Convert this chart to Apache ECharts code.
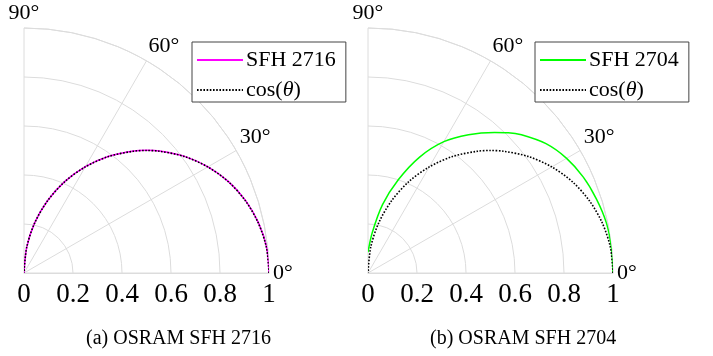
<!DOCTYPE html>
<html lang="en">

<head>
    <meta charset="UTF-8">
    <title>LED radiation patterns</title>
    <style>
        html, body {
            margin: 0;
            padding: 0;
            background: #fff;
        }
        .box {
            width: 713px;
            height: 356px;
        }
    </style>
</head>

<body>
    <div class="box"></div>

    <script src="https://cdn.jsdelivr.net/npm/echarts@6/dist/echarts.min.js"></script>
    <script>
        let myChart = echarts.init(document.querySelector(".box"));

        // angle in degrees, mostly 6 degree steps, plus 45 at the top of the lobes
        let angles = [0, 6, 12, 18, 24, 30, 36, 42, 45, 48, 54, 60, 66, 72, 78, 84, 90];
        // relative intensity
        let sfh2716 = [1, 0.996, 0.979, 0.952, 0.915, 0.867, 0.81, 0.744, 0.708, 0.67, 0.589, 0.501, 0.408, 0.31, 0.209, 0.105, 0];
        let sfh2704 = [1, 0.999, 0.994, 0.98, 0.962, 0.936, 0.898, 0.843, 0.81, 0.772, 0.698, 0.619, 0.518, 0.4, 0.285, 0.165, 0.085];
        let cosRef = [1, 0.995, 0.978, 0.951, 0.914, 0.866, 0.809, 0.743, 0.707, 0.669, 0.588, 0.5, 0.407, 0.309, 0.208, 0.105, 0];
        let radiusTicks = [0, 0.2, 0.4, 0.6, 0.8, 1];
        let angleTicks = [0, 30, 60, 90];
        let captions = ["(a) OSRAM SFH 2716", "(b) OSRAM SFH 2704"];

        const font = "'Liberation Serif', 'Times New Roman', serif";
        const gridGray = "#dcdcdc";

        function pairs(vals) {
            return vals.map((r, i) => [r, angles[i]]);
        }

        function angleAxis(idx) {
            return {
                polarIndex: idx,
                type: "value",
                min: angleTicks[0],
                max: angleTicks[angleTicks.length - 1],
                interval: 30,
                startAngle: 0,
                endAngle: 90,
                clockwise: false,
                axisLine: { lineStyle: { color: gridGray, width: 1 } },
                axisTick: { show: false },
                splitLine: { lineStyle: { color: gridGray, width: 1 } },
                axisLabel: {
                    margin: 4,
                    fontFamily: font,
                    fontSize: 22,
                    color: "#000",
                    formatter: "{value}°"
                }
            };
        }

        function radiusAxis(idx) {
            return {
                polarIndex: idx,
                type: "value",
                min: 0,
                max: 1,
                interval: 0.2,
                axisLine: { lineStyle: { color: gridGray, width: 1 } },
                axisTick: { show: false },
                splitLine: { lineStyle: { color: gridGray, width: 1 } },
                axisLabel: {
                    margin: -8,
                    verticalAlign: "top",
                    fontFamily: font,
                    fontSize: 27,
                    color: "#000",
                    formatter: v => radiusTicks.indexOf(v) >= 0 ? String(v) : ""
                }
            };
        }

        function legend(left, names) {
            return {
                orient: "vertical",
                left: left,
                top: 42,
                data: names,
                padding: [7, 10, 1, 4],
                itemGap: 8,
                itemWidth: 46,
                itemHeight: 14,
                borderColor: "#444",
                borderWidth: 1,
                borderRadius: 0,
                backgroundColor: "#fff",
                selectedMode: false,
                itemStyle: { color: "rgba(0,0,0,0)", borderColor: "rgba(0,0,0,0)", borderWidth: 0 },
                formatter: n => n.replace("θ", "{i|θ}"),
                textStyle: {
                    fontFamily: font,
                    fontSize: 22,
                    color: "#000",
                    padding: [0, 0, 0, -2],
                    rich: {
                        i: { fontFamily: font, fontSize: 22, fontStyle: "italic", color: "#000" }
                    }
                }
            };
        }

        function lineSeries(name, idx, vals, color, dotted) {
            return {
                name: name,
                type: "line",
                coordinateSystem: "polar",
                polarIndex: idx,
                data: pairs(vals),
                symbol: "none",
                smooth: 0.3,
                silent: true,
                animation: false,
                z: dotted ? 3 : 2,
                lineStyle: {
                    color: color,
                    width: dotted ? 1.6 : 1.5,
                    type: dotted ? [1.6, 1.6] : "solid"
                },
                itemStyle: { color: color }
            };
        }

        option = {
            animation: false,
            polar: [
                { center: [24, 273], radius: 245 },
                { center: [368, 273], radius: 245 }
            ],
            angleAxis: [angleAxis(0), angleAxis(1)],
            radiusAxis: [radiusAxis(0), radiusAxis(1)],
            legend: [
                legend(192, ["SFH 2716", "cos(θ)"]),
                legend(535, ["SFH 2704", "cos(θ) "])
            ],
            title: [
                {
                    text: captions[0],
                    left: 86,
                    top: 329,
                    padding: 0,
                    textStyle: { fontFamily: font, fontSize: 20, fontWeight: "normal", color: "#000" }
                },
                {
                    text: captions[1],
                    left: 430,
                    top: 329,
                    padding: 0,
                    textStyle: { fontFamily: font, fontSize: 20, fontWeight: "normal", color: "#000" }
                }
            ],
            series: [
                lineSeries("SFH 2716", 0, sfh2716, "#ff00ff", false),
                lineSeries("cos(θ)", 0, cosRef, "#000", true),
                lineSeries("SFH 2704", 1, sfh2704, "#00ff00", false),
                lineSeries("cos(θ) ", 1, cosRef, "#000", true)
            ]
        }
        myChart.setOption(option);
    </script>
</body>

</html>
